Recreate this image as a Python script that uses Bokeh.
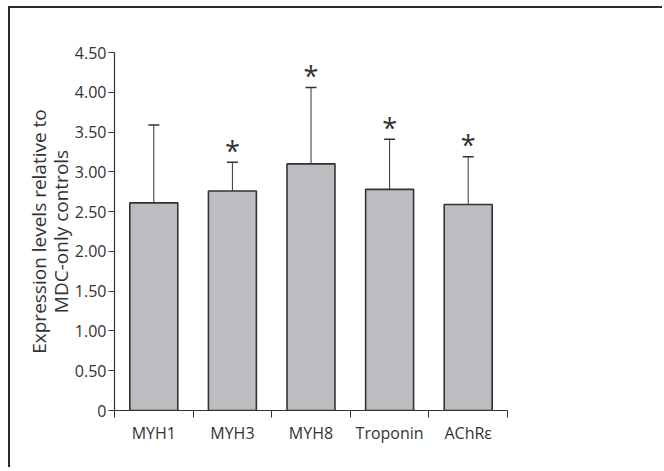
from bokeh.plotting import figure
from bokeh.models import ColumnDataSource, FixedTicker, Whisker, TeeHead, Range1d, LinearAxis
from bokeh.embed import file_html
from bokeh.resources import INLINE
from bokeh.core.properties import value

categories = ["MYH1", "MYH3", "MYH8", "Troponin", "AChR\u03b5"]
means = [2.61, 2.76, 3.10, 2.78, 2.59]
err_upper = [3.59, 3.12, 4.06, 3.41, 3.19]
err_lower = [1.63, 2.40, 2.15, 2.14, 2.00]
significant = [False, True, True, True, True]
y_ticks = [0, 0.5, 1.0, 1.5, 2.0, 2.5, 3.0, 3.5, 4.0, 4.5]
y_label_lines = ["Expression levels relative to", "MDC-only controls"]

xc = [i + 0.5 for i in range(len(categories))]
bounds = [i for i in range(len(categories) + 1)]

src = ColumnDataSource(dict(x=xc, top=means, upper=err_upper, lower=err_lower))
sx = [x for x, s in zip(xc, significant) if s]
sy = [u for u, s in zip(err_upper, significant) if s]
star_src = ColumnDataSource(dict(x=sx, y=sy, t=["*"] * len(sx)))

FONT = "Open Sans"
DARK = "#333333"

p = figure(width=654, height=461, output_backend="svg", toolbar_location=None,
           x_range=Range1d(0, len(categories)), y_range=Range1d(0, 4.5),
           min_border_left=104, min_border_top=44, min_border_right=157, min_border_bottom=59,
           styles={"border-left": "2px solid #2b2b2b", "border-top": "2px solid #2b2b2b",
                   "margin-left": "8px", "margin-top": "6px"})
p.outline_line_color = None
p.grid.visible = False
p.background_fill_color = "white"
p.border_fill_color = "white"

p.vbar(x="x", top="top", bottom=0, width=0.61, source=src,
       fill_color="#bcbdc1", line_color=DARK, line_width=1.6)

w = Whisker(base="x", upper="upper", lower="lower", source=src,
            line_color=DARK, line_width=1,
            upper_head=TeeHead(size=11, line_color=DARK, line_width=1.5),
            lower_head=TeeHead(size=11, line_color=DARK, line_width=1.5))
p.add_layout(w)

p.text(x="x", y="y", text="t", source=star_src, text_align="center",
       text_baseline="middle", y_offset=-12, text_font=value(FONT),
       text_font_size="27px", text_color=DARK)

# x axis
xa = p.xaxis[0]
xa.ticker = FixedTicker(ticks=xc, minor_ticks=bounds)
xa.major_label_overrides = {x: c for x, c in zip(xc, categories)}
xa.major_tick_out = 0
xa.major_tick_in = 0
xa.minor_tick_out = 7
xa.minor_tick_in = 0
xa.minor_tick_line_color = DARK
xa.axis_line_color = DARK
xa.axis_line_width = 1.2
xa.major_label_text_font = FONT
xa.major_label_text_font_size = "16px"
xa.major_label_text_color = DARK
xa.major_label_standoff = 4

# y axis
ya = p.yaxis[0]
ya.ticker = FixedTicker(ticks=y_ticks)
ya.major_label_overrides = {t: ("0" if t == 0 else f"{t:.2f}") for t in y_ticks}
ya.major_tick_out = 6
ya.major_tick_in = 0
ya.minor_tick_out = 0
ya.minor_tick_in = 0
ya.major_tick_line_color = DARK
ya.axis_line_color = DARK
ya.axis_line_width = 1.2
ya.major_label_text_font = FONT
ya.major_label_text_font_size = "16px"
ya.major_label_text_color = DARK
ya.major_label_standoff = 2
ya.axis_label = y_label_lines[1]
ya.axis_label_text_font = FONT
ya.axis_label_text_font_size = "19px"
ya.axis_label_text_font_style = "normal"
ya.axis_label_text_color = DARK
ya.axis_label_standoff = -2

ya2 = LinearAxis(ticker=FixedTicker(ticks=[]), axis_line_color=None,
                 major_tick_line_color=None, minor_tick_line_color=None,
                 axis_label=y_label_lines[0], axis_label_text_font=FONT,
                 axis_label_text_font_size="19px", axis_label_text_font_style="normal",
                 axis_label_text_color=DARK, axis_label_standoff=-7)
p.add_layout(ya2, "left")

open("out.html", "w").write(file_html(p, INLINE))
